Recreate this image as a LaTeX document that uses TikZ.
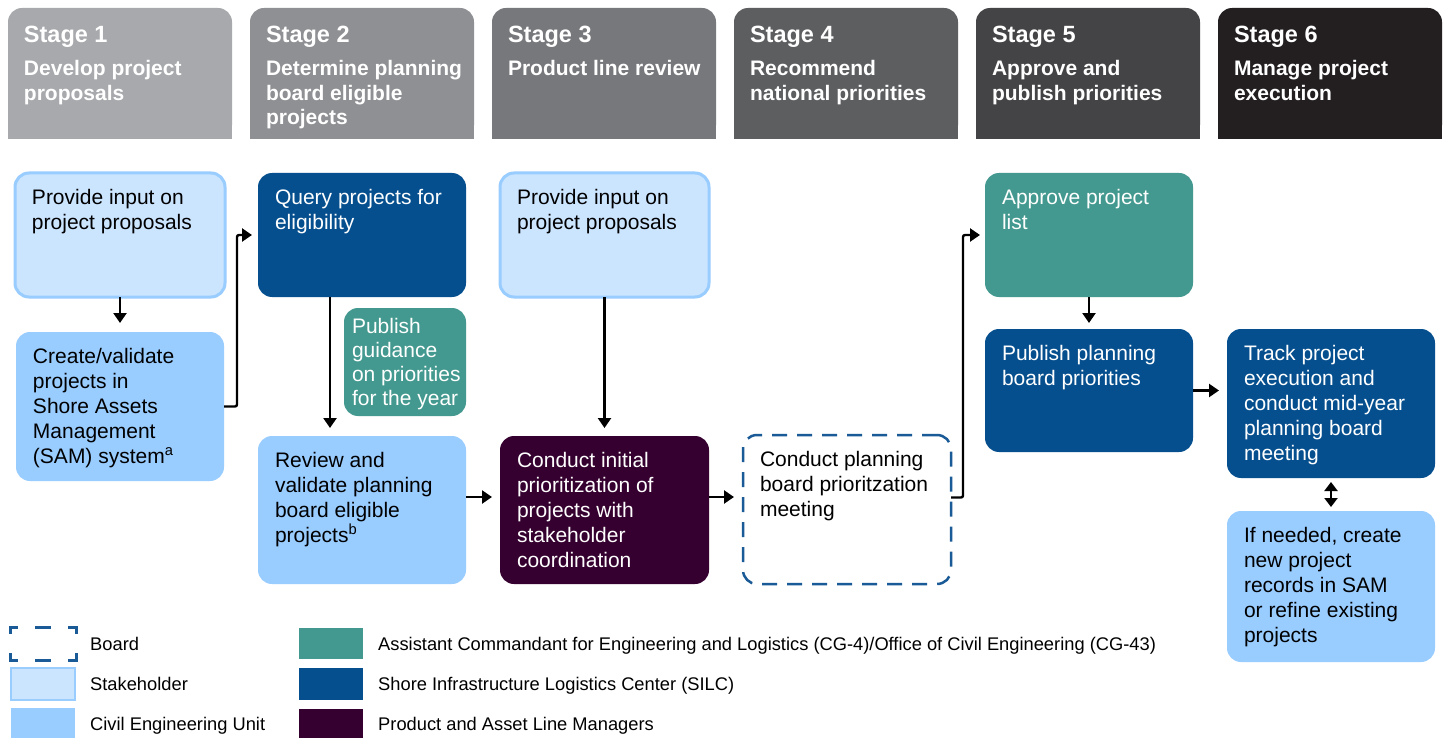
\documentclass[tikz,border=0pt]{standalone}
\usepackage{fontspec}
\setmainfont{Liberation Sans}
\usetikzlibrary{arrows.meta,backgrounds}
\definecolor{cSa}{HTML}{A7A9AC}
\definecolor{cSb}{HTML}{8F9093}
\definecolor{cSc}{HTML}{77787B}
\definecolor{cSd}{HTML}{5D5E60}
\definecolor{cSe}{HTML}{444446}
\definecolor{cSf}{HTML}{231F20}
\definecolor{cStake}{HTML}{CCE5FF}
\definecolor{cStakeEdge}{HTML}{99CCFF}
\definecolor{cCEU}{HTML}{99CCFF}
\definecolor{cSILC}{HTML}{064F8E}
\definecolor{cTeal}{HTML}{43998F}
\definecolor{cPurp}{HTML}{35002F}
\definecolor{cBoard}{HTML}{1A5A96}
\newcommand\boxtxt[3]{\parbox[c][#2pt][t]{#1pt}{\raggedright\leftskip=17pt\relax\rule{0pt}{31pt}#3}}
\newcommand\smalltxt[3]{\parbox[c][#2pt][t]{#1pt}{\raggedright\leftskip=8pt\relax\baselineskip=24pt\rule{0pt}{25pt}#3}}
\newcommand\hdtxt[2]{\parbox[c][131pt][t]{224pt}{\raggedright\leftskip=16pt\relax\rule{0pt}{35pt}{\fontsize{23.5}{27}\selectfont Stage #1}\par\vspace{8.5pt}\fontsize{21}{24.5}\selectfont #2}}
\tikzset{
  hdr/.style={anchor=north west, inner sep=0pt, outer sep=0pt, text=white, font=\bfseries},
  bx/.style={anchor=north west, inner sep=0pt, outer sep=0pt, rounded corners=14pt, font=\fontsize{21}{25}\selectfont},
  stk/.style={bx, draw=cStakeEdge, line width=3pt, fill=cStake, text=black},
  ceu/.style={bx, fill=cCEU, text=black},
  silc/.style={bx, fill=cSILC, text=white},
  tealbx/.style={bx, fill=cTeal, text=white},
  purp/.style={bx, fill=cPurp, text=white},
  boardbx/.style={bx, draw=cBoard, line width=2.5pt, dash pattern=on 15pt off 10pt, text=black},
  arr/.style={line width=2.4pt, draw=black, rounded corners=2pt, -{Triangle[length=10pt,width=13pt]}},
  darr/.style={line width=2.4pt, draw=black, {Triangle[length=9pt,width=13pt]}-{Triangle[length=9pt,width=13pt]}},
  sw/.style={anchor=north west, inner sep=0pt, outer sep=0pt},
  lgtxt/.style={anchor=base west, inner sep=0pt, font=\fontsize{18.3}{21}\selectfont, text=black},
  lgdash/.style={draw=cBoard, line width=3pt}
}
\begin{document}
\begin{tikzpicture}[x=1pt,y=-1pt]
\useasboundingbox (0,0) rectangle (1448,738);
\begin{scope}[on background layer]
\fill[white] (0,0) rectangle (1448,738);
\end{scope}
% stage headers
\node[hdr, minimum width=224pt, minimum height=131pt] (h1) at (8,8) {\hdtxt{1}{Develop project\\proposals}};
\node[hdr, minimum width=224pt, minimum height=131pt] (h2) at (250,8) {\hdtxt{2}{Determine planning\\board eligible\\projects}};
\node[hdr, minimum width=224pt, minimum height=131pt] (h3) at (492,8) {\hdtxt{3}{Product line review}};
\node[hdr, minimum width=224pt, minimum height=131pt] (h4) at (734,8) {\hdtxt{4}{Recommend\\national priorities}};
\node[hdr, minimum width=224pt, minimum height=131pt] (h5) at (976,8) {\hdtxt{5}{Approve and\\publish priorities}};
\node[hdr, minimum width=224pt, minimum height=131pt] (h6) at (1218,8) {\hdtxt{6}{Manage project\\execution}};
\begin{scope}[on background layer]
\foreach \n/\c in {h1/cSa,h2/cSb,h3/cSc,h4/cSd,h5/cSe,h6/cSf}{
  \fill[\c, rounded corners=14pt] (\n.south west) rectangle (\n.north east);
  \fill[\c] (\n.south west) rectangle (\n.east);
}
\end{scope}
% boxes
\node[stk] (pA) at (15,173) {\boxtxt{210}{124}{Provide input on\\project proposals}};
\node[ceu] (pB) at (16,332) {\boxtxt{208}{149}{Create/validate\\projects in\\Shore Assets\\Management\\(SAM) system\textsuperscript{a}}};
\node[silc] (pQ) at (258,173) {\boxtxt{208}{124}{Query projects for\\eligibility}};
\node[tealbx] (pG) at (344,308) {\smalltxt{122}{108}{Publish\\guidance\\on priorities\\for the year}};
\node[ceu] (pR) at (258,436) {\boxtxt{208}{148}{Review and\\validate planning\\board eligible\\projects\textsuperscript{b}}};
\node[stk] (pC) at (500,173) {\boxtxt{209}{124}{Provide input on\\project proposals}};
\node[purp] (pD) at (500,436) {\boxtxt{209}{148}{Conduct initial\\prioritization of\\projects with\\stakeholder\\coordination}};
\node[boardbx] (pE) at (743,435) {\boxtxt{208}{149}{Conduct planning\\board prioritzation\\meeting}};
\node[tealbx] (pF) at (985,173) {\boxtxt{208}{124}{Approve project\\list}};
\node[silc] (pH) at (985,329) {\boxtxt{208}{123}{Publish planning\\board priorities}};
\node[silc] (pT) at (1227,329) {\boxtxt{208}{149}{Track project\\execution and\\conduct mid-year\\planning board\\meeting}};
\node[ceu] (pI) at (1227,511) {\boxtxt{208}{151}{If needed, create\\new project\\records in SAM\\or refine existing\\projects}};
% connectors
\coordinate (k1) at (237,235);
\coordinate (k2) at (963,235);
\draw[arr, shorten >=9pt] (pA.south) -- (pB.north);
\draw[arr, shorten >=6pt] (pB.east) -| (k1) -- (pQ.west);
\draw[arr, shorten >=8pt] ([xshift=-32pt]pQ.south) -- ([xshift=-32pt]pR.north);
\draw[arr, shorten >=8pt] ([yshift=13pt]pR.east) -- ([yshift=13pt]pD.west);
\draw[arr, shorten >=8pt] (pC.south) -- (pD.north);
\draw[arr, shorten >=9pt] ([yshift=13pt]pD.east) -- ([yshift=13pt]pD.east -| pE.west);
\draw[arr, shorten >=5pt] ([yshift=12pt]pE.east) -| (k2) -- (pF.west);
\draw[arr, shorten >=6pt] (pF.south) -- (pH.north);
\draw[arr, shorten >=8pt] (pH.east) -- (pH.east -| pT.west);
\draw[darr, shorten <=4pt, shorten >=4pt] (pT.south) -- (pI.north);
% legend
\node[sw, minimum width=66pt, minimum height=33pt] (lb) at (10,627) {};
\draw[lgdash] ([yshift=-7pt]lb.north west) -- (lb.north west) -- ([xshift=8pt]lb.north west);
\draw[lgdash] ([yshift=-7pt]lb.north east) -- (lb.north east) -- ([xshift=-8pt]lb.north east);
\draw[lgdash] ([yshift=7pt]lb.south west) -- (lb.south west) -- ([xshift=8pt]lb.south west);
\draw[lgdash] ([yshift=7pt]lb.south east) -- (lb.south east) -- ([xshift=-8pt]lb.south east);
\draw[lgdash] ([xshift=-8pt]lb.north) -- ([xshift=8pt]lb.north);
\draw[lgdash] ([xshift=-8pt]lb.south) -- ([xshift=8pt]lb.south);
\node[sw, minimum width=64pt, minimum height=32pt, fill=cStake, draw=cStakeEdge, line width=2.5pt] (ls) at (11,668) {};
\node[sw, minimum width=64pt, minimum height=34pt, fill=cCEU] (lc) at (11,708) {};
\node[sw, minimum width=64pt, minimum height=31pt, fill=cTeal] (lt) at (299,628) {};
\node[sw, minimum width=64pt, minimum height=32pt, fill=cSILC] (lsi) at (299,668) {};
\node[sw, minimum width=64pt, minimum height=34pt, fill=cPurp] (lp) at (299,709) {};
\node[lgtxt] (tb) at (90,650) {Board};
\node[lgtxt] (ts) at (90,690) {Stakeholder};
\node[lgtxt] (tc) at (90,730) {Civil Engineering Unit};
\node[lgtxt] (tt) at (378,650) {Assistant Commandant for Engineering and Logistics (CG-4)/Office of Civil Engineering (CG-43)};
\node[lgtxt] (tsi) at (378,690) {Shore Infrastructure Logistics Center (SILC)};
\node[lgtxt] (tp) at (378,730) {Product and Asset Line Managers};
\end{tikzpicture}
\end{document}
